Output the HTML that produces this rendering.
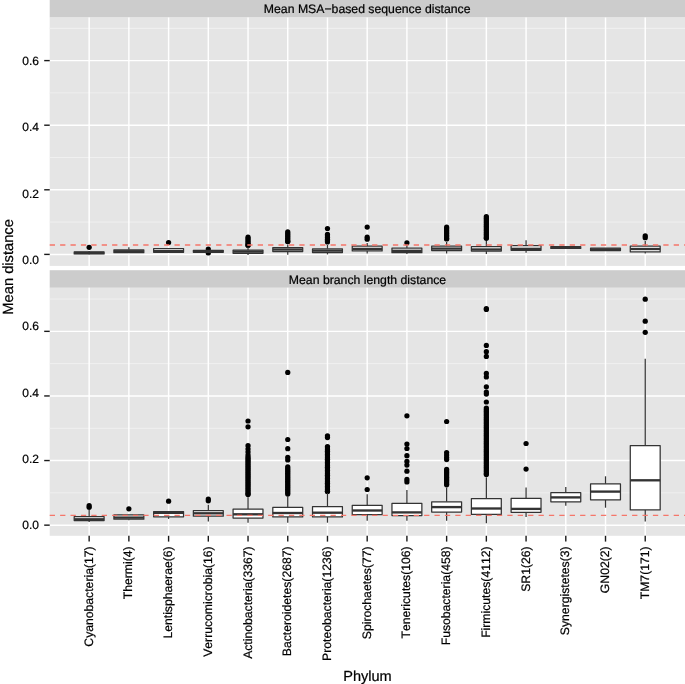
<!DOCTYPE html>
<html><head><meta charset="utf-8"><title>Mean distance by Phylum</title>
<style>html,body{margin:0;padding:0;background:#fff;}body{width:685px;height:684px;overflow:hidden;font-family:"Liberation Sans",sans-serif;}</style>
</head><body>
<svg width="685" height="684" viewBox="0 0 685 684" style="display:block;will-change:transform;font-kerning:none;font-variant-ligatures:none;text-rendering:geometricPrecision" font-family="'Liberation Sans', sans-serif" stroke-linejoin="round">
<rect x="0" y="0" width="685" height="684" fill="#ffffff"/>
<rect x="49.7" y="0" width="635.3" height="17.55" fill="#CCCCCC"/>
<rect x="49.7" y="17.55" width="635.3" height="248.34999999999997" fill="#E5E5E5"/>
<line x1="49.7" x2="685" y1="222.10" y2="222.10" stroke="#F2F2F2" stroke-width="0.85"/>
<line x1="49.7" x2="685" y1="157.50" y2="157.50" stroke="#F2F2F2" stroke-width="0.85"/>
<line x1="49.7" x2="685" y1="92.90" y2="92.90" stroke="#F2F2F2" stroke-width="0.85"/>
<line x1="49.7" x2="685" y1="28.30" y2="28.30" stroke="#F2F2F2" stroke-width="0.85"/>
<line x1="49.7" x2="685" y1="254.40" y2="254.40" stroke="#FFFFFF" stroke-width="1.45"/>
<line x1="44.2" x2="49.7" y1="254.40" y2="254.40" stroke="#1a1a1a" stroke-width="1.4"/>
<line x1="49.7" x2="685" y1="189.80" y2="189.80" stroke="#FFFFFF" stroke-width="1.45"/>
<line x1="44.2" x2="49.7" y1="189.80" y2="189.80" stroke="#1a1a1a" stroke-width="1.4"/>
<line x1="49.7" x2="685" y1="125.20" y2="125.20" stroke="#FFFFFF" stroke-width="1.45"/>
<line x1="44.2" x2="49.7" y1="125.20" y2="125.20" stroke="#1a1a1a" stroke-width="1.4"/>
<line x1="49.7" x2="685" y1="60.60" y2="60.60" stroke="#FFFFFF" stroke-width="1.45"/>
<line x1="44.2" x2="49.7" y1="60.60" y2="60.60" stroke="#1a1a1a" stroke-width="1.4"/>
<line x1="89.15" x2="89.15" y1="17.55" y2="265.9" stroke="#FFFFFF" stroke-width="1.45"/>
<line x1="128.87" x2="128.87" y1="17.55" y2="265.9" stroke="#FFFFFF" stroke-width="1.45"/>
<line x1="168.59" x2="168.59" y1="17.55" y2="265.9" stroke="#FFFFFF" stroke-width="1.45"/>
<line x1="208.31" x2="208.31" y1="17.55" y2="265.9" stroke="#FFFFFF" stroke-width="1.45"/>
<line x1="248.03" x2="248.03" y1="17.55" y2="265.9" stroke="#FFFFFF" stroke-width="1.45"/>
<line x1="287.75" x2="287.75" y1="17.55" y2="265.9" stroke="#FFFFFF" stroke-width="1.45"/>
<line x1="327.47" x2="327.47" y1="17.55" y2="265.9" stroke="#FFFFFF" stroke-width="1.45"/>
<line x1="367.19" x2="367.19" y1="17.55" y2="265.9" stroke="#FFFFFF" stroke-width="1.45"/>
<line x1="406.91" x2="406.91" y1="17.55" y2="265.9" stroke="#FFFFFF" stroke-width="1.45"/>
<line x1="446.63" x2="446.63" y1="17.55" y2="265.9" stroke="#FFFFFF" stroke-width="1.45"/>
<line x1="486.35" x2="486.35" y1="17.55" y2="265.9" stroke="#FFFFFF" stroke-width="1.45"/>
<line x1="526.07" x2="526.07" y1="17.55" y2="265.9" stroke="#FFFFFF" stroke-width="1.45"/>
<line x1="565.79" x2="565.79" y1="17.55" y2="265.9" stroke="#FFFFFF" stroke-width="1.45"/>
<line x1="605.51" x2="605.51" y1="17.55" y2="265.9" stroke="#FFFFFF" stroke-width="1.45"/>
<line x1="645.23" x2="645.23" y1="17.55" y2="265.9" stroke="#FFFFFF" stroke-width="1.45"/>
<text x="367.2" y="12.9" font-size="12.25" text-anchor="middle" fill="#000" stroke="#000" stroke-width="0.22">Mean MSA−based sequence distance</text>
<circle cx="89.15" cy="247.3" r="2.62" fill="#000"/>
<line x1="89.15" x2="89.15" y1="251.0" y2="251.9" stroke="#333333" stroke-width="1.25"/>
<line x1="89.15" x2="89.15" y1="253.9" y2="254.2" stroke="#333333" stroke-width="1.25"/>
<rect x="74.20" y="251.9" width="29.9" height="2.00" fill="#FFFFFF" stroke="#333333" stroke-width="1.25"/>
<line x1="74.20" x2="104.10" y1="252.9" y2="252.9" stroke="#333333" stroke-width="2.35"/>
<line x1="128.87" x2="128.87" y1="247.3" y2="249.8" stroke="#333333" stroke-width="1.25"/>
<line x1="128.87" x2="128.87" y1="252.7" y2="253.0" stroke="#333333" stroke-width="1.25"/>
<rect x="113.92" y="249.8" width="29.9" height="2.90" fill="#FFFFFF" stroke="#333333" stroke-width="1.25"/>
<line x1="113.92" x2="143.82" y1="251.25" y2="251.25" stroke="#333333" stroke-width="2.35"/>
<circle cx="168.59" cy="242.5" r="2.62" fill="#000"/>
<line x1="168.59" x2="168.59" y1="252.3" y2="252.6" stroke="#333333" stroke-width="1.25"/>
<rect x="153.64" y="248.6" width="29.9" height="3.70" fill="#FFFFFF" stroke="#333333" stroke-width="1.25"/>
<line x1="153.64" x2="183.54" y1="251.2" y2="251.2" stroke="#333333" stroke-width="2.35"/>
<circle cx="208.31" cy="249.1" r="2.62" fill="#000"/>
<circle cx="208.31" cy="252.9" r="2.62" fill="#000"/>
<line x1="208.31" x2="208.31" y1="250.0" y2="250.3" stroke="#333333" stroke-width="1.25"/>
<line x1="208.31" x2="208.31" y1="252.3" y2="252.6" stroke="#333333" stroke-width="1.25"/>
<rect x="193.36" y="250.3" width="29.9" height="2.00" fill="#FFFFFF" stroke="#333333" stroke-width="1.25"/>
<line x1="193.36" x2="223.26" y1="251.3" y2="251.3" stroke="#333333" stroke-width="2.35"/>
<circle cx="248.03" cy="237.2" r="2.62" fill="#000"/>
<circle cx="248.03" cy="238.8" r="2.62" fill="#000"/>
<circle cx="248.03" cy="240.4" r="2.62" fill="#000"/>
<circle cx="248.03" cy="242.0" r="2.62" fill="#000"/>
<circle cx="248.03" cy="243.6" r="2.62" fill="#000"/>
<circle cx="248.03" cy="245.2" r="2.62" fill="#000"/>
<circle cx="248.03" cy="245.2" r="2.62" fill="#000"/>
<line x1="248.03" x2="248.03" y1="247.5" y2="250.0" stroke="#333333" stroke-width="1.25"/>
<line x1="248.03" x2="248.03" y1="253.3" y2="254.9" stroke="#333333" stroke-width="1.25"/>
<rect x="233.08" y="250.0" width="29.9" height="3.30" fill="#FFFFFF" stroke="#333333" stroke-width="1.25"/>
<line x1="233.08" x2="262.98" y1="251.65" y2="251.65" stroke="#333333" stroke-width="2.35"/>
<circle cx="287.75" cy="231.8" r="2.62" fill="#000"/>
<circle cx="287.75" cy="233.4" r="2.62" fill="#000"/>
<circle cx="287.75" cy="235.0" r="2.62" fill="#000"/>
<circle cx="287.75" cy="236.6" r="2.62" fill="#000"/>
<circle cx="287.75" cy="238.2" r="2.62" fill="#000"/>
<circle cx="287.75" cy="239.8" r="2.62" fill="#000"/>
<circle cx="287.75" cy="241.4" r="2.62" fill="#000"/>
<circle cx="287.75" cy="241.6" r="2.62" fill="#000"/>
<line x1="287.75" x2="287.75" y1="244.4" y2="247.5" stroke="#333333" stroke-width="1.25"/>
<line x1="287.75" x2="287.75" y1="251.6" y2="254.7" stroke="#333333" stroke-width="1.25"/>
<rect x="272.80" y="247.5" width="29.9" height="4.10" fill="#FFFFFF" stroke="#333333" stroke-width="1.25"/>
<line x1="272.80" x2="302.70" y1="249.55" y2="249.55" stroke="#333333" stroke-width="2.35"/>
<circle cx="327.47" cy="228.5" r="2.62" fill="#000"/>
<circle cx="327.47" cy="234.4" r="2.62" fill="#000"/>
<circle cx="327.47" cy="236.0" r="2.62" fill="#000"/>
<circle cx="327.47" cy="237.6" r="2.62" fill="#000"/>
<circle cx="327.47" cy="239.2" r="2.62" fill="#000"/>
<circle cx="327.47" cy="240.8" r="2.62" fill="#000"/>
<circle cx="327.47" cy="242.0" r="2.62" fill="#000"/>
<line x1="327.47" x2="327.47" y1="245.0" y2="248.8" stroke="#333333" stroke-width="1.25"/>
<line x1="327.47" x2="327.47" y1="252.5" y2="254.4" stroke="#333333" stroke-width="1.25"/>
<rect x="312.52" y="248.8" width="29.9" height="3.70" fill="#FFFFFF" stroke="#333333" stroke-width="1.25"/>
<line x1="312.52" x2="342.42" y1="250.65" y2="250.65" stroke="#333333" stroke-width="2.35"/>
<circle cx="367.19" cy="227.1" r="2.62" fill="#000"/>
<circle cx="367.19" cy="237.2" r="2.62" fill="#000"/>
<circle cx="367.19" cy="239.2" r="2.62" fill="#000"/>
<line x1="367.19" x2="367.19" y1="243.0" y2="246.2" stroke="#333333" stroke-width="1.25"/>
<line x1="367.19" x2="367.19" y1="250.9" y2="253.4" stroke="#333333" stroke-width="1.25"/>
<rect x="352.24" y="246.2" width="29.9" height="4.70" fill="#FFFFFF" stroke="#333333" stroke-width="1.25"/>
<line x1="352.24" x2="382.14" y1="248.9" y2="248.9" stroke="#333333" stroke-width="2.35"/>
<circle cx="406.91" cy="242.8" r="2.62" fill="#000"/>
<line x1="406.91" x2="406.91" y1="245.5" y2="248.1" stroke="#333333" stroke-width="1.25"/>
<line x1="406.91" x2="406.91" y1="252.7" y2="254.0" stroke="#333333" stroke-width="1.25"/>
<rect x="391.96" y="248.1" width="29.9" height="4.60" fill="#FFFFFF" stroke="#333333" stroke-width="1.25"/>
<line x1="391.96" x2="421.86" y1="250.8" y2="250.8" stroke="#333333" stroke-width="2.35"/>
<circle cx="446.63" cy="227.2" r="2.62" fill="#000"/>
<circle cx="446.63" cy="228.8" r="2.62" fill="#000"/>
<circle cx="446.63" cy="230.4" r="2.62" fill="#000"/>
<circle cx="446.63" cy="232.0" r="2.62" fill="#000"/>
<circle cx="446.63" cy="233.6" r="2.62" fill="#000"/>
<circle cx="446.63" cy="235.2" r="2.62" fill="#000"/>
<circle cx="446.63" cy="236.8" r="2.62" fill="#000"/>
<circle cx="446.63" cy="238.4" r="2.62" fill="#000"/>
<circle cx="446.63" cy="239.0" r="2.62" fill="#000"/>
<line x1="446.63" x2="446.63" y1="242.0" y2="246.1" stroke="#333333" stroke-width="1.25"/>
<line x1="446.63" x2="446.63" y1="250.5" y2="253.4" stroke="#333333" stroke-width="1.25"/>
<rect x="431.68" y="246.1" width="29.9" height="4.40" fill="#FFFFFF" stroke="#333333" stroke-width="1.25"/>
<line x1="431.68" x2="461.58" y1="248.6" y2="248.6" stroke="#333333" stroke-width="2.35"/>
<circle cx="486.35" cy="216.6" r="2.62" fill="#000"/>
<circle cx="486.35" cy="218.2" r="2.62" fill="#000"/>
<circle cx="486.35" cy="219.8" r="2.62" fill="#000"/>
<circle cx="486.35" cy="221.4" r="2.62" fill="#000"/>
<circle cx="486.35" cy="223.0" r="2.62" fill="#000"/>
<circle cx="486.35" cy="224.6" r="2.62" fill="#000"/>
<circle cx="486.35" cy="226.2" r="2.62" fill="#000"/>
<circle cx="486.35" cy="227.8" r="2.62" fill="#000"/>
<circle cx="486.35" cy="229.4" r="2.62" fill="#000"/>
<circle cx="486.35" cy="231.0" r="2.62" fill="#000"/>
<circle cx="486.35" cy="232.6" r="2.62" fill="#000"/>
<circle cx="486.35" cy="234.2" r="2.62" fill="#000"/>
<circle cx="486.35" cy="235.8" r="2.62" fill="#000"/>
<circle cx="486.35" cy="237.4" r="2.62" fill="#000"/>
<circle cx="486.35" cy="238.3" r="2.62" fill="#000"/>
<line x1="486.35" x2="486.35" y1="241.0" y2="246.5" stroke="#333333" stroke-width="1.25"/>
<line x1="486.35" x2="486.35" y1="251.1" y2="254.0" stroke="#333333" stroke-width="1.25"/>
<rect x="471.40" y="246.5" width="29.9" height="4.60" fill="#FFFFFF" stroke="#333333" stroke-width="1.25"/>
<line x1="471.40" x2="501.30" y1="249.5" y2="249.5" stroke="#333333" stroke-width="2.35"/>
<line x1="526.07" x2="526.07" y1="240.3" y2="245.7" stroke="#333333" stroke-width="1.25"/>
<line x1="526.07" x2="526.07" y1="250.3" y2="252.7" stroke="#333333" stroke-width="1.25"/>
<rect x="511.12" y="245.7" width="29.9" height="4.60" fill="#FFFFFF" stroke="#333333" stroke-width="1.25"/>
<line x1="511.12" x2="541.02" y1="248.85" y2="248.85" stroke="#333333" stroke-width="2.35"/>
<rect x="550.84" y="246.6" width="29.9" height="1.80" fill="#FFFFFF" stroke="#333333" stroke-width="1.25"/>
<line x1="550.84" x2="580.74" y1="247.5" y2="247.5" stroke="#333333" stroke-width="2.35"/>
<rect x="590.56" y="248.2" width="29.9" height="2.30" fill="#FFFFFF" stroke="#333333" stroke-width="1.25"/>
<line x1="590.56" x2="620.46" y1="249.4" y2="249.4" stroke="#333333" stroke-width="2.35"/>
<circle cx="645.23" cy="235.8" r="2.62" fill="#000"/>
<circle cx="645.23" cy="237.7" r="2.62" fill="#000"/>
<line x1="645.23" x2="645.23" y1="241.0" y2="246.2" stroke="#333333" stroke-width="1.25"/>
<line x1="645.23" x2="645.23" y1="251.9" y2="253.4" stroke="#333333" stroke-width="1.25"/>
<rect x="630.28" y="246.2" width="29.9" height="5.70" fill="#FFFFFF" stroke="#333333" stroke-width="1.25"/>
<line x1="630.28" x2="660.18" y1="249.0" y2="249.0" stroke="#333333" stroke-width="2.35"/>
<line x1="49.7" x2="685" y1="245.0" y2="245.0" stroke="#F5766A" stroke-width="1.3" stroke-dasharray="5.3 5.1"/>
<rect x="49.7" y="270.2" width="635.3" height="17.600000000000023" fill="#CCCCCC"/>
<rect x="49.7" y="287.8" width="635.3" height="247.99999999999994" fill="#E5E5E5"/>
<line x1="49.7" x2="685" y1="492.85" y2="492.85" stroke="#F2F2F2" stroke-width="0.85"/>
<line x1="49.7" x2="685" y1="428.25" y2="428.25" stroke="#F2F2F2" stroke-width="0.85"/>
<line x1="49.7" x2="685" y1="363.65" y2="363.65" stroke="#F2F2F2" stroke-width="0.85"/>
<line x1="49.7" x2="685" y1="299.05" y2="299.05" stroke="#F2F2F2" stroke-width="0.85"/>
<line x1="49.7" x2="685" y1="525.15" y2="525.15" stroke="#FFFFFF" stroke-width="1.45"/>
<line x1="44.2" x2="49.7" y1="525.15" y2="525.15" stroke="#1a1a1a" stroke-width="1.4"/>
<line x1="49.7" x2="685" y1="460.55" y2="460.55" stroke="#FFFFFF" stroke-width="1.45"/>
<line x1="44.2" x2="49.7" y1="460.55" y2="460.55" stroke="#1a1a1a" stroke-width="1.4"/>
<line x1="49.7" x2="685" y1="395.95" y2="395.95" stroke="#FFFFFF" stroke-width="1.45"/>
<line x1="44.2" x2="49.7" y1="395.95" y2="395.95" stroke="#1a1a1a" stroke-width="1.4"/>
<line x1="49.7" x2="685" y1="331.35" y2="331.35" stroke="#FFFFFF" stroke-width="1.45"/>
<line x1="44.2" x2="49.7" y1="331.35" y2="331.35" stroke="#1a1a1a" stroke-width="1.4"/>
<line x1="89.15" x2="89.15" y1="287.8" y2="535.8" stroke="#FFFFFF" stroke-width="1.45"/>
<line x1="128.87" x2="128.87" y1="287.8" y2="535.8" stroke="#FFFFFF" stroke-width="1.45"/>
<line x1="168.59" x2="168.59" y1="287.8" y2="535.8" stroke="#FFFFFF" stroke-width="1.45"/>
<line x1="208.31" x2="208.31" y1="287.8" y2="535.8" stroke="#FFFFFF" stroke-width="1.45"/>
<line x1="248.03" x2="248.03" y1="287.8" y2="535.8" stroke="#FFFFFF" stroke-width="1.45"/>
<line x1="287.75" x2="287.75" y1="287.8" y2="535.8" stroke="#FFFFFF" stroke-width="1.45"/>
<line x1="327.47" x2="327.47" y1="287.8" y2="535.8" stroke="#FFFFFF" stroke-width="1.45"/>
<line x1="367.19" x2="367.19" y1="287.8" y2="535.8" stroke="#FFFFFF" stroke-width="1.45"/>
<line x1="406.91" x2="406.91" y1="287.8" y2="535.8" stroke="#FFFFFF" stroke-width="1.45"/>
<line x1="446.63" x2="446.63" y1="287.8" y2="535.8" stroke="#FFFFFF" stroke-width="1.45"/>
<line x1="486.35" x2="486.35" y1="287.8" y2="535.8" stroke="#FFFFFF" stroke-width="1.45"/>
<line x1="526.07" x2="526.07" y1="287.8" y2="535.8" stroke="#FFFFFF" stroke-width="1.45"/>
<line x1="565.79" x2="565.79" y1="287.8" y2="535.8" stroke="#FFFFFF" stroke-width="1.45"/>
<line x1="605.51" x2="605.51" y1="287.8" y2="535.8" stroke="#FFFFFF" stroke-width="1.45"/>
<line x1="645.23" x2="645.23" y1="287.8" y2="535.8" stroke="#FFFFFF" stroke-width="1.45"/>
<text x="367.5" y="283.7" font-size="12.25" text-anchor="middle" fill="#000" stroke="#000" stroke-width="0.22">Mean branch length distance</text>
<circle cx="89.15" cy="505.6" r="2.62" fill="#000"/>
<circle cx="89.15" cy="507.3" r="2.62" fill="#000"/>
<line x1="89.15" x2="89.15" y1="510.0" y2="516.5" stroke="#333333" stroke-width="1.25"/>
<line x1="89.15" x2="89.15" y1="520.5" y2="522.0" stroke="#333333" stroke-width="1.25"/>
<rect x="74.20" y="516.5" width="29.9" height="4.00" fill="#FFFFFF" stroke="#333333" stroke-width="1.25"/>
<line x1="74.20" x2="104.10" y1="519.3" y2="519.3" stroke="#333333" stroke-width="2.35"/>
<circle cx="128.87" cy="508.8" r="2.62" fill="#000"/>
<line x1="128.87" x2="128.87" y1="519.2" y2="520.2" stroke="#333333" stroke-width="1.25"/>
<rect x="113.92" y="514.9" width="29.9" height="4.30" fill="#FFFFFF" stroke="#333333" stroke-width="1.25"/>
<line x1="113.92" x2="143.82" y1="517.6" y2="517.6" stroke="#333333" stroke-width="2.35"/>
<circle cx="168.59" cy="501.2" r="2.62" fill="#000"/>
<line x1="168.59" x2="168.59" y1="516.8" y2="518.9" stroke="#333333" stroke-width="1.25"/>
<rect x="153.64" y="511.5" width="29.9" height="5.30" fill="#FFFFFF" stroke="#333333" stroke-width="1.25"/>
<line x1="153.64" x2="183.54" y1="512.8" y2="512.8" stroke="#333333" stroke-width="2.35"/>
<circle cx="208.31" cy="499.0" r="2.62" fill="#000"/>
<circle cx="208.31" cy="500.8" r="2.62" fill="#000"/>
<line x1="208.31" x2="208.31" y1="504.7" y2="510.5" stroke="#333333" stroke-width="1.25"/>
<line x1="208.31" x2="208.31" y1="516.2" y2="521.5" stroke="#333333" stroke-width="1.25"/>
<rect x="193.36" y="510.5" width="29.9" height="5.70" fill="#FFFFFF" stroke="#333333" stroke-width="1.25"/>
<line x1="193.36" x2="223.26" y1="513.3" y2="513.3" stroke="#333333" stroke-width="2.35"/>
<circle cx="248.03" cy="421.0" r="2.62" fill="#000"/>
<circle cx="248.03" cy="426.8" r="2.62" fill="#000"/>
<circle cx="248.03" cy="445.7" r="2.62" fill="#000"/>
<circle cx="248.03" cy="449.0" r="2.62" fill="#000"/>
<circle cx="248.03" cy="452.0" r="2.62" fill="#000"/>
<circle cx="248.03" cy="455.0" r="2.62" fill="#000"/>
<circle cx="248.03" cy="457.0" r="2.62" fill="#000"/>
<circle cx="248.03" cy="458.6" r="2.62" fill="#000"/>
<circle cx="248.03" cy="460.2" r="2.62" fill="#000"/>
<circle cx="248.03" cy="461.8" r="2.62" fill="#000"/>
<circle cx="248.03" cy="463.4" r="2.62" fill="#000"/>
<circle cx="248.03" cy="465.0" r="2.62" fill="#000"/>
<circle cx="248.03" cy="466.6" r="2.62" fill="#000"/>
<circle cx="248.03" cy="468.2" r="2.62" fill="#000"/>
<circle cx="248.03" cy="469.8" r="2.62" fill="#000"/>
<circle cx="248.03" cy="471.4" r="2.62" fill="#000"/>
<circle cx="248.03" cy="473.0" r="2.62" fill="#000"/>
<circle cx="248.03" cy="474.6" r="2.62" fill="#000"/>
<circle cx="248.03" cy="476.2" r="2.62" fill="#000"/>
<circle cx="248.03" cy="477.8" r="2.62" fill="#000"/>
<circle cx="248.03" cy="479.4" r="2.62" fill="#000"/>
<circle cx="248.03" cy="481.0" r="2.62" fill="#000"/>
<circle cx="248.03" cy="482.6" r="2.62" fill="#000"/>
<circle cx="248.03" cy="484.2" r="2.62" fill="#000"/>
<circle cx="248.03" cy="485.8" r="2.62" fill="#000"/>
<circle cx="248.03" cy="487.4" r="2.62" fill="#000"/>
<circle cx="248.03" cy="489.0" r="2.62" fill="#000"/>
<circle cx="248.03" cy="490.6" r="2.62" fill="#000"/>
<circle cx="248.03" cy="492.2" r="2.62" fill="#000"/>
<circle cx="248.03" cy="493.8" r="2.62" fill="#000"/>
<circle cx="248.03" cy="494.6" r="2.62" fill="#000"/>
<line x1="248.03" x2="248.03" y1="497.3" y2="509.1" stroke="#333333" stroke-width="1.25"/>
<line x1="248.03" x2="248.03" y1="518.1" y2="522.7" stroke="#333333" stroke-width="1.25"/>
<rect x="233.08" y="509.1" width="29.9" height="9.00" fill="#FFFFFF" stroke="#333333" stroke-width="1.25"/>
<line x1="233.08" x2="262.98" y1="514.3" y2="514.3" stroke="#333333" stroke-width="2.35"/>
<circle cx="287.75" cy="372.4" r="2.62" fill="#000"/>
<circle cx="287.75" cy="439.5" r="2.62" fill="#000"/>
<circle cx="287.75" cy="448.7" r="2.62" fill="#000"/>
<circle cx="287.75" cy="457.4" r="2.62" fill="#000"/>
<circle cx="287.75" cy="460.0" r="2.62" fill="#000"/>
<circle cx="287.75" cy="466.8" r="2.62" fill="#000"/>
<circle cx="287.75" cy="468.4" r="2.62" fill="#000"/>
<circle cx="287.75" cy="470.0" r="2.62" fill="#000"/>
<circle cx="287.75" cy="471.6" r="2.62" fill="#000"/>
<circle cx="287.75" cy="473.2" r="2.62" fill="#000"/>
<circle cx="287.75" cy="474.8" r="2.62" fill="#000"/>
<circle cx="287.75" cy="476.4" r="2.62" fill="#000"/>
<circle cx="287.75" cy="478.0" r="2.62" fill="#000"/>
<circle cx="287.75" cy="479.6" r="2.62" fill="#000"/>
<circle cx="287.75" cy="481.2" r="2.62" fill="#000"/>
<circle cx="287.75" cy="482.8" r="2.62" fill="#000"/>
<circle cx="287.75" cy="484.4" r="2.62" fill="#000"/>
<circle cx="287.75" cy="486.0" r="2.62" fill="#000"/>
<circle cx="287.75" cy="487.6" r="2.62" fill="#000"/>
<circle cx="287.75" cy="489.2" r="2.62" fill="#000"/>
<circle cx="287.75" cy="490.8" r="2.62" fill="#000"/>
<circle cx="287.75" cy="492.4" r="2.62" fill="#000"/>
<circle cx="287.75" cy="494.0" r="2.62" fill="#000"/>
<line x1="287.75" x2="287.75" y1="496.0" y2="507.4" stroke="#333333" stroke-width="1.25"/>
<line x1="287.75" x2="287.75" y1="516.9" y2="522.7" stroke="#333333" stroke-width="1.25"/>
<rect x="272.80" y="507.4" width="29.9" height="9.50" fill="#FFFFFF" stroke="#333333" stroke-width="1.25"/>
<line x1="272.80" x2="302.70" y1="513.0" y2="513.0" stroke="#333333" stroke-width="2.35"/>
<circle cx="327.47" cy="435.8" r="2.62" fill="#000"/>
<circle cx="327.47" cy="437.6" r="2.62" fill="#000"/>
<circle cx="327.47" cy="446.5" r="2.62" fill="#000"/>
<circle cx="327.47" cy="448.1" r="2.62" fill="#000"/>
<circle cx="327.47" cy="449.7" r="2.62" fill="#000"/>
<circle cx="327.47" cy="451.3" r="2.62" fill="#000"/>
<circle cx="327.47" cy="452.9" r="2.62" fill="#000"/>
<circle cx="327.47" cy="454.5" r="2.62" fill="#000"/>
<circle cx="327.47" cy="456.1" r="2.62" fill="#000"/>
<circle cx="327.47" cy="457.7" r="2.62" fill="#000"/>
<circle cx="327.47" cy="459.3" r="2.62" fill="#000"/>
<circle cx="327.47" cy="460.9" r="2.62" fill="#000"/>
<circle cx="327.47" cy="462.5" r="2.62" fill="#000"/>
<circle cx="327.47" cy="464.1" r="2.62" fill="#000"/>
<circle cx="327.47" cy="465.7" r="2.62" fill="#000"/>
<circle cx="327.47" cy="467.3" r="2.62" fill="#000"/>
<circle cx="327.47" cy="468.9" r="2.62" fill="#000"/>
<circle cx="327.47" cy="470.5" r="2.62" fill="#000"/>
<circle cx="327.47" cy="472.1" r="2.62" fill="#000"/>
<circle cx="327.47" cy="473.7" r="2.62" fill="#000"/>
<circle cx="327.47" cy="475.3" r="2.62" fill="#000"/>
<circle cx="327.47" cy="476.9" r="2.62" fill="#000"/>
<circle cx="327.47" cy="478.5" r="2.62" fill="#000"/>
<circle cx="327.47" cy="480.1" r="2.62" fill="#000"/>
<circle cx="327.47" cy="481.7" r="2.62" fill="#000"/>
<circle cx="327.47" cy="483.3" r="2.62" fill="#000"/>
<circle cx="327.47" cy="484.9" r="2.62" fill="#000"/>
<circle cx="327.47" cy="486.5" r="2.62" fill="#000"/>
<circle cx="327.47" cy="488.1" r="2.62" fill="#000"/>
<circle cx="327.47" cy="489.7" r="2.62" fill="#000"/>
<circle cx="327.47" cy="491.3" r="2.62" fill="#000"/>
<circle cx="327.47" cy="491.4" r="2.62" fill="#000"/>
<line x1="327.47" x2="327.47" y1="493.0" y2="506.5" stroke="#333333" stroke-width="1.25"/>
<line x1="327.47" x2="327.47" y1="516.9" y2="522.7" stroke="#333333" stroke-width="1.25"/>
<rect x="312.52" y="506.5" width="29.9" height="10.40" fill="#FFFFFF" stroke="#333333" stroke-width="1.25"/>
<line x1="312.52" x2="342.42" y1="512.7" y2="512.7" stroke="#333333" stroke-width="2.35"/>
<circle cx="367.19" cy="477.8" r="2.62" fill="#000"/>
<circle cx="367.19" cy="489.5" r="2.62" fill="#000"/>
<line x1="367.19" x2="367.19" y1="494.2" y2="505.3" stroke="#333333" stroke-width="1.25"/>
<line x1="367.19" x2="367.19" y1="514.5" y2="520.8" stroke="#333333" stroke-width="1.25"/>
<rect x="352.24" y="505.3" width="29.9" height="9.20" fill="#FFFFFF" stroke="#333333" stroke-width="1.25"/>
<line x1="352.24" x2="382.14" y1="510.5" y2="510.5" stroke="#333333" stroke-width="2.35"/>
<circle cx="406.91" cy="415.8" r="2.62" fill="#000"/>
<circle cx="406.91" cy="444.0" r="2.62" fill="#000"/>
<circle cx="406.91" cy="448.5" r="2.62" fill="#000"/>
<circle cx="406.91" cy="455.7" r="2.62" fill="#000"/>
<circle cx="406.91" cy="461.4" r="2.62" fill="#000"/>
<circle cx="406.91" cy="465.1" r="2.62" fill="#000"/>
<circle cx="406.91" cy="471.2" r="2.62" fill="#000"/>
<circle cx="406.91" cy="479.4" r="2.62" fill="#000"/>
<circle cx="406.91" cy="481.9" r="2.62" fill="#000"/>
<line x1="406.91" x2="406.91" y1="490.0" y2="503.3" stroke="#333333" stroke-width="1.25"/>
<line x1="406.91" x2="406.91" y1="515.6" y2="520.8" stroke="#333333" stroke-width="1.25"/>
<rect x="391.96" y="503.3" width="29.9" height="12.30" fill="#FFFFFF" stroke="#333333" stroke-width="1.25"/>
<line x1="391.96" x2="421.86" y1="512.4" y2="512.4" stroke="#333333" stroke-width="2.35"/>
<circle cx="446.63" cy="421.5" r="2.62" fill="#000"/>
<circle cx="446.63" cy="452.5" r="2.62" fill="#000"/>
<circle cx="446.63" cy="455.0" r="2.62" fill="#000"/>
<circle cx="446.63" cy="457.5" r="2.62" fill="#000"/>
<circle cx="446.63" cy="459.6" r="2.62" fill="#000"/>
<circle cx="446.63" cy="469.3" r="2.62" fill="#000"/>
<circle cx="446.63" cy="470.9" r="2.62" fill="#000"/>
<circle cx="446.63" cy="472.5" r="2.62" fill="#000"/>
<circle cx="446.63" cy="474.1" r="2.62" fill="#000"/>
<circle cx="446.63" cy="475.7" r="2.62" fill="#000"/>
<circle cx="446.63" cy="477.3" r="2.62" fill="#000"/>
<circle cx="446.63" cy="478.9" r="2.62" fill="#000"/>
<circle cx="446.63" cy="480.5" r="2.62" fill="#000"/>
<circle cx="446.63" cy="482.1" r="2.62" fill="#000"/>
<circle cx="446.63" cy="483.7" r="2.62" fill="#000"/>
<circle cx="446.63" cy="484.8" r="2.62" fill="#000"/>
<line x1="446.63" x2="446.63" y1="487.6" y2="501.8" stroke="#333333" stroke-width="1.25"/>
<line x1="446.63" x2="446.63" y1="512.1" y2="520.8" stroke="#333333" stroke-width="1.25"/>
<rect x="431.68" y="501.8" width="29.9" height="10.30" fill="#FFFFFF" stroke="#333333" stroke-width="1.25"/>
<line x1="431.68" x2="461.58" y1="507.1" y2="507.1" stroke="#333333" stroke-width="2.35"/>
<circle cx="486.35" cy="308.5" r="2.62" fill="#000"/>
<circle cx="486.35" cy="309.5" r="2.62" fill="#000"/>
<circle cx="486.35" cy="345.4" r="2.62" fill="#000"/>
<circle cx="486.35" cy="351.7" r="2.62" fill="#000"/>
<circle cx="486.35" cy="356.4" r="2.62" fill="#000"/>
<circle cx="486.35" cy="373.4" r="2.62" fill="#000"/>
<circle cx="486.35" cy="376.9" r="2.62" fill="#000"/>
<circle cx="486.35" cy="386.8" r="2.62" fill="#000"/>
<circle cx="486.35" cy="392.0" r="2.62" fill="#000"/>
<circle cx="486.35" cy="394.1" r="2.62" fill="#000"/>
<circle cx="486.35" cy="402.0" r="2.62" fill="#000"/>
<circle cx="486.35" cy="408.0" r="2.62" fill="#000"/>
<circle cx="486.35" cy="409.6" r="2.62" fill="#000"/>
<circle cx="486.35" cy="411.2" r="2.62" fill="#000"/>
<circle cx="486.35" cy="412.8" r="2.62" fill="#000"/>
<circle cx="486.35" cy="414.4" r="2.62" fill="#000"/>
<circle cx="486.35" cy="416.0" r="2.62" fill="#000"/>
<circle cx="486.35" cy="417.6" r="2.62" fill="#000"/>
<circle cx="486.35" cy="419.2" r="2.62" fill="#000"/>
<circle cx="486.35" cy="420.8" r="2.62" fill="#000"/>
<circle cx="486.35" cy="422.4" r="2.62" fill="#000"/>
<circle cx="486.35" cy="424.0" r="2.62" fill="#000"/>
<circle cx="486.35" cy="425.6" r="2.62" fill="#000"/>
<circle cx="486.35" cy="427.2" r="2.62" fill="#000"/>
<circle cx="486.35" cy="428.8" r="2.62" fill="#000"/>
<circle cx="486.35" cy="430.4" r="2.62" fill="#000"/>
<circle cx="486.35" cy="432.0" r="2.62" fill="#000"/>
<circle cx="486.35" cy="433.6" r="2.62" fill="#000"/>
<circle cx="486.35" cy="435.2" r="2.62" fill="#000"/>
<circle cx="486.35" cy="436.8" r="2.62" fill="#000"/>
<circle cx="486.35" cy="438.4" r="2.62" fill="#000"/>
<circle cx="486.35" cy="440.0" r="2.62" fill="#000"/>
<circle cx="486.35" cy="441.6" r="2.62" fill="#000"/>
<circle cx="486.35" cy="443.2" r="2.62" fill="#000"/>
<circle cx="486.35" cy="444.8" r="2.62" fill="#000"/>
<circle cx="486.35" cy="446.4" r="2.62" fill="#000"/>
<circle cx="486.35" cy="448.0" r="2.62" fill="#000"/>
<circle cx="486.35" cy="449.6" r="2.62" fill="#000"/>
<circle cx="486.35" cy="451.2" r="2.62" fill="#000"/>
<circle cx="486.35" cy="452.8" r="2.62" fill="#000"/>
<circle cx="486.35" cy="454.4" r="2.62" fill="#000"/>
<circle cx="486.35" cy="456.0" r="2.62" fill="#000"/>
<circle cx="486.35" cy="457.6" r="2.62" fill="#000"/>
<circle cx="486.35" cy="459.2" r="2.62" fill="#000"/>
<circle cx="486.35" cy="460.8" r="2.62" fill="#000"/>
<circle cx="486.35" cy="462.4" r="2.62" fill="#000"/>
<circle cx="486.35" cy="464.0" r="2.62" fill="#000"/>
<circle cx="486.35" cy="465.6" r="2.62" fill="#000"/>
<circle cx="486.35" cy="467.2" r="2.62" fill="#000"/>
<circle cx="486.35" cy="468.8" r="2.62" fill="#000"/>
<circle cx="486.35" cy="470.4" r="2.62" fill="#000"/>
<circle cx="486.35" cy="472.0" r="2.62" fill="#000"/>
<circle cx="486.35" cy="473.6" r="2.62" fill="#000"/>
<circle cx="486.35" cy="474.5" r="2.62" fill="#000"/>
<line x1="486.35" x2="486.35" y1="477.3" y2="498.5" stroke="#333333" stroke-width="1.25"/>
<line x1="486.35" x2="486.35" y1="514.4" y2="523.2" stroke="#333333" stroke-width="1.25"/>
<rect x="471.40" y="498.5" width="29.9" height="15.90" fill="#FFFFFF" stroke="#333333" stroke-width="1.25"/>
<line x1="471.40" x2="501.30" y1="508.5" y2="508.5" stroke="#333333" stroke-width="2.35"/>
<circle cx="526.07" cy="443.5" r="2.62" fill="#000"/>
<circle cx="526.07" cy="469.1" r="2.62" fill="#000"/>
<line x1="526.07" x2="526.07" y1="487.4" y2="498.3" stroke="#333333" stroke-width="1.25"/>
<line x1="526.07" x2="526.07" y1="512.25" y2="517.0" stroke="#333333" stroke-width="1.25"/>
<rect x="511.12" y="498.3" width="29.9" height="13.95" fill="#FFFFFF" stroke="#333333" stroke-width="1.25"/>
<line x1="511.12" x2="541.02" y1="508.9" y2="508.9" stroke="#333333" stroke-width="2.35"/>
<line x1="565.79" x2="565.79" y1="486.9" y2="492.7" stroke="#333333" stroke-width="1.25"/>
<line x1="565.79" x2="565.79" y1="501.8" y2="505.7" stroke="#333333" stroke-width="1.25"/>
<rect x="550.84" y="492.7" width="29.9" height="9.10" fill="#FFFFFF" stroke="#333333" stroke-width="1.25"/>
<line x1="550.84" x2="580.74" y1="497.4" y2="497.4" stroke="#333333" stroke-width="2.35"/>
<line x1="605.51" x2="605.51" y1="476.3" y2="483.9" stroke="#333333" stroke-width="1.25"/>
<line x1="605.51" x2="605.51" y1="499.8" y2="507.7" stroke="#333333" stroke-width="1.25"/>
<rect x="590.56" y="483.9" width="29.9" height="15.90" fill="#FFFFFF" stroke="#333333" stroke-width="1.25"/>
<line x1="590.56" x2="620.46" y1="491.6" y2="491.6" stroke="#333333" stroke-width="2.35"/>
<circle cx="645.23" cy="299.2" r="2.62" fill="#000"/>
<circle cx="645.23" cy="321.2" r="2.62" fill="#000"/>
<circle cx="645.23" cy="332.3" r="2.62" fill="#000"/>
<line x1="645.23" x2="645.23" y1="358.8" y2="445.5" stroke="#333333" stroke-width="1.25"/>
<line x1="645.23" x2="645.23" y1="509.9" y2="521.6" stroke="#333333" stroke-width="1.25"/>
<rect x="630.28" y="445.5" width="29.9" height="64.40" fill="#FFFFFF" stroke="#333333" stroke-width="1.25"/>
<line x1="630.28" x2="660.18" y1="480.3" y2="480.3" stroke="#333333" stroke-width="2.35"/>
<line x1="49.7" x2="685" y1="515.4" y2="515.4" stroke="#F5766A" stroke-width="1.3" stroke-dasharray="5.3 5.1"/>
<text x="38.9" y="64.9" font-size="12" text-anchor="end" fill="#000" stroke="#000" stroke-width="0.22">0.6</text>
<text x="38.9" y="131.2" font-size="12" text-anchor="end" fill="#000" stroke="#000" stroke-width="0.22">0.4</text>
<text x="38.9" y="197.5" font-size="12" text-anchor="end" fill="#000" stroke="#000" stroke-width="0.22">0.2</text>
<text x="38.9" y="264.1" font-size="12" text-anchor="end" fill="#000" stroke="#000" stroke-width="0.22">0.0</text>
<text x="38.9" y="330.3" font-size="12" text-anchor="end" fill="#000" stroke="#000" stroke-width="0.22">0.6</text>
<text x="38.9" y="396.5" font-size="12" text-anchor="end" fill="#000" stroke="#000" stroke-width="0.22">0.4</text>
<text x="38.9" y="462.7" font-size="12" text-anchor="end" fill="#000" stroke="#000" stroke-width="0.22">0.2</text>
<text x="38.9" y="529.3" font-size="12" text-anchor="end" fill="#000" stroke="#000" stroke-width="0.22">0.0</text>
<line x1="89.15" x2="89.15" y1="535.8" y2="541.6" stroke="#1a1a1a" stroke-width="1.4"/>
<text transform="translate(92.65,546.4) rotate(-90)" font-size="12.2" text-anchor="end" fill="#000" stroke="#000" stroke-width="0.22">Cyanobacteria(17)</text>
<line x1="128.87" x2="128.87" y1="535.8" y2="541.6" stroke="#1a1a1a" stroke-width="1.4"/>
<text transform="translate(132.37,546.4) rotate(-90)" font-size="12.2" text-anchor="end" fill="#000" stroke="#000" stroke-width="0.22">Thermi(4)</text>
<line x1="168.59" x2="168.59" y1="535.8" y2="541.6" stroke="#1a1a1a" stroke-width="1.4"/>
<text transform="translate(172.09,546.4) rotate(-90)" font-size="12.2" text-anchor="end" fill="#000" stroke="#000" stroke-width="0.22">Lentisphaerae(6)</text>
<line x1="208.31" x2="208.31" y1="535.8" y2="541.6" stroke="#1a1a1a" stroke-width="1.4"/>
<text transform="translate(211.81,546.4) rotate(-90)" font-size="12.2" text-anchor="end" fill="#000" stroke="#000" stroke-width="0.22">Verrucomicrobia(16)</text>
<line x1="248.03" x2="248.03" y1="535.8" y2="541.6" stroke="#1a1a1a" stroke-width="1.4"/>
<text transform="translate(251.53,546.4) rotate(-90)" font-size="12.2" text-anchor="end" fill="#000" stroke="#000" stroke-width="0.22">Actinobacteria(3367)</text>
<line x1="287.75" x2="287.75" y1="535.8" y2="541.6" stroke="#1a1a1a" stroke-width="1.4"/>
<text transform="translate(291.25,546.4) rotate(-90)" font-size="12.2" text-anchor="end" fill="#000" stroke="#000" stroke-width="0.22">Bacteroidetes(2687)</text>
<line x1="327.47" x2="327.47" y1="535.8" y2="541.6" stroke="#1a1a1a" stroke-width="1.4"/>
<text transform="translate(330.97,546.4) rotate(-90)" font-size="12.2" text-anchor="end" fill="#000" stroke="#000" stroke-width="0.22">Proteobacteria(1236)</text>
<line x1="367.19" x2="367.19" y1="535.8" y2="541.6" stroke="#1a1a1a" stroke-width="1.4"/>
<text transform="translate(370.69,546.4) rotate(-90)" font-size="12.2" text-anchor="end" fill="#000" stroke="#000" stroke-width="0.22">Spirochaetes(77)</text>
<line x1="406.91" x2="406.91" y1="535.8" y2="541.6" stroke="#1a1a1a" stroke-width="1.4"/>
<text transform="translate(410.41,546.4) rotate(-90)" font-size="12.2" text-anchor="end" fill="#000" stroke="#000" stroke-width="0.22">Tenericutes(106)</text>
<line x1="446.63" x2="446.63" y1="535.8" y2="541.6" stroke="#1a1a1a" stroke-width="1.4"/>
<text transform="translate(450.13,546.4) rotate(-90)" font-size="12.2" text-anchor="end" fill="#000" stroke="#000" stroke-width="0.22">Fusobacteria(458)</text>
<line x1="486.35" x2="486.35" y1="535.8" y2="541.6" stroke="#1a1a1a" stroke-width="1.4"/>
<text transform="translate(489.85,546.4) rotate(-90)" font-size="12.2" text-anchor="end" fill="#000" stroke="#000" stroke-width="0.22">Firmicutes(4112)</text>
<line x1="526.07" x2="526.07" y1="535.8" y2="541.6" stroke="#1a1a1a" stroke-width="1.4"/>
<text transform="translate(529.57,546.4) rotate(-90)" font-size="12.2" text-anchor="end" fill="#000" stroke="#000" stroke-width="0.22">SR1(26)</text>
<line x1="565.79" x2="565.79" y1="535.8" y2="541.6" stroke="#1a1a1a" stroke-width="1.4"/>
<text transform="translate(569.29,546.4) rotate(-90)" font-size="12.2" text-anchor="end" fill="#000" stroke="#000" stroke-width="0.22">Synergistetes(3)</text>
<line x1="605.51" x2="605.51" y1="535.8" y2="541.6" stroke="#1a1a1a" stroke-width="1.4"/>
<text transform="translate(609.01,546.4) rotate(-90)" font-size="12.2" text-anchor="end" fill="#000" stroke="#000" stroke-width="0.22">GN02(2)</text>
<line x1="645.23" x2="645.23" y1="535.8" y2="541.6" stroke="#1a1a1a" stroke-width="1.4"/>
<text transform="translate(648.73,546.4) rotate(-90)" font-size="12.2" text-anchor="end" fill="#000" stroke="#000" stroke-width="0.22">TM7(171)</text>
<text x="367.5" y="680.5" font-size="14.55" text-anchor="middle" fill="#000" stroke="#000" stroke-width="0.22">Phylum</text>
<text transform="translate(12.8,266.9) rotate(-90)" font-size="14.7" text-anchor="middle" fill="#000" stroke="#000" stroke-width="0.22">Mean distance</text>
</svg>
</body></html>
